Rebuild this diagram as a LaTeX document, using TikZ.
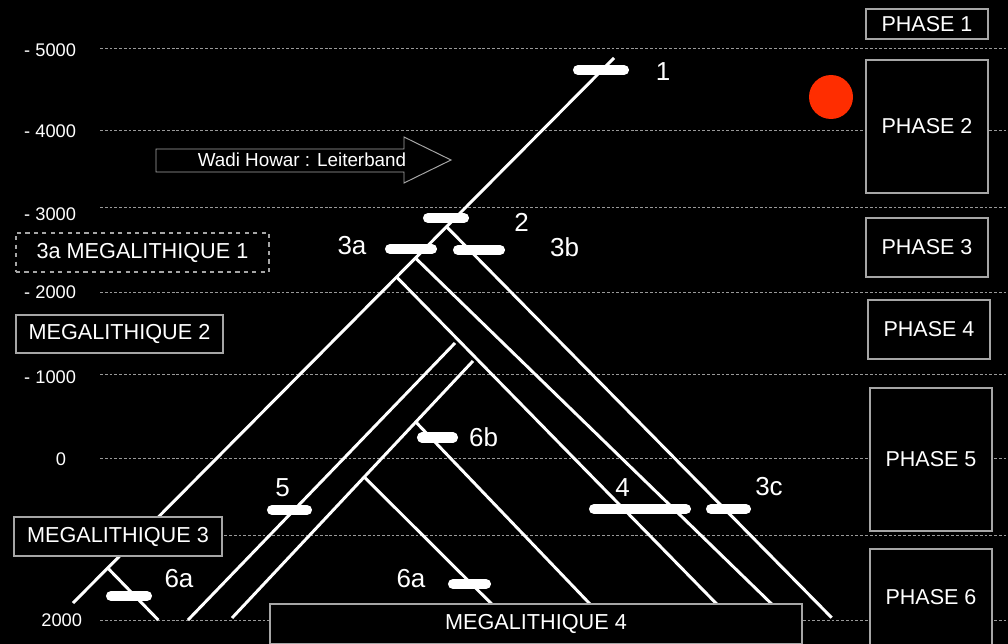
\documentclass[tikz,border=0pt]{standalone}
\usepackage{fontspec}
\setmainfont{Liberation Sans}
\definecolor{sunred}{RGB}{255,45,0}
\begin{document}
\begin{tikzpicture}[
        x=0.025cm, y=-0.025cm,
        declare function={
            % x of the main trunk at a given y
            trunk(\t) = 614 - (\t-58)*0.99266;
            % x of the second rising line at a given y
            rise(\t) = 232 + (618-\t)*0.93774;
        },
        epoch/.style={gray!80, line width=0.6pt, dash pattern=on 2pt off 1.4pt},
        branch/.style={white, line width=2.1pt},
        bar/.style={white, line width=7.2pt, line cap=round},
        datum/.style={white, font=\fontsize{18.5}{20}\selectfont},
        yr/.style={white, anchor=east, font=\fontsize{13}{15}\selectfont},
        phase/.style={draw=gray!70, line width=0.9pt, fill=black, text=white,
            minimum width=3.05cm, inner sep=0pt, font=\fontsize{15.3}{18}\selectfont},
        megbox/.style={draw=gray!70, line width=0.9pt, fill=black, text=white,
            inner sep=0pt, font=\fontsize{15.4}{17}\selectfont}
    ]
        % Background
        \fill[black] (0,0) rectangle (1008,644);
        \useasboundingbox (0,0) rectangle (1008,644);

        % Time scale
        \foreach \y in {48,130,207,292,374,458,535,620}
            \draw[epoch] (100,\y) -- (1008,\y);
        \node[yr] (y5000) at (81,50) {- 5000};
        \node[yr] (y4000) at (81,131) {- 4000};
        \node[yr] (y3000) at (81,214) {- 3000};
        \node[yr] (y2000) at (81,292) {- 2000};
        \node[yr] (y1000) at (81,377) {- 1000};
        \node[yr] (y0) at (71,459) {0};
        \node[yr] (y2000ad) at (87,620) {2000};

        % Trunk and branch points
        \coordinate (top) at (614,58);
        \coordinate (foot) at (73,603);
        \coordinate (b2) at ({trunk(226.7)},226.7);
        \coordinate (b3) at ({trunk(258)},258);
        \coordinate (b4) at ({trunk(277)},277);
        \coordinate (b6) at ({trunk(568)},568);
        \coordinate (e3c) at (831.7,617.7);
        \coordinate (e3) at (771.7,604);
        \coordinate (e4) at (716.7,604);
        \coordinate (e6) at (158.3,620);
        % rising lines
        \coordinate (c0) at (188,620);
        \coordinate (c1) at (455,343);
        \coordinate (d0) at (232,618);
        \coordinate (d1) at (473,361);
        \coordinate (r6b) at ({rise(422)},422);
        \coordinate (r6a) at ({rise(477)},477);
        \coordinate (e6b) at (590,604);
        \coordinate (e6a) at (491.7,604);

        \draw[branch] (top) -- (foot);
        \draw[branch] (b2) -- (e3c);
        \draw[branch] (b3) -- (e3);
        \draw[branch] (b4) -- (e4);
        \draw[branch] (b6) -- (e6);
        \draw[branch] (c0) -- (c1);
        \draw[branch] (d0) -- (d1);
        \draw[branch] (r6b) -- (e6b);
        \draw[branch] (r6a) -- (e6a);

        % Dated sites
        \draw[bar] (578,70) -- (624,70);
        \draw[bar] (428,218) -- (464,218);
        \draw[bar] (390,249) -- (432,249);
        \draw[bar] (458,250) -- (500,250);
        \draw[bar] (594,509) -- (686,509);
        \draw[bar] (711,509) -- (746,509);
        \draw[bar] (272,510) -- (307,510);
        \draw[bar] (422,437.5) -- (453,437.5);
        \draw[bar] (453,584) -- (486,584);
        \draw[bar] (111,596) -- (147,596);

        \node[datum] (s1) at (663,72) {1};
        \node[datum] (s2) at (521.5,222.5) {2};
        \node[datum] (s3a) at (352,246) {3a};
        \node[datum] (s3b) at (564.5,247.5) {3b};
        \node[datum] (s3c) at (769,487) {3c};
        \node[datum] (s4) at (622.5,488) {4};
        \node[datum] (s5) at (282.5,487.5) {5};
        \node[datum] (s6b) at (483.5,437) {6b};
        \node[datum] (s6a) at (411,579) {6a};
        \node[datum] (s6aw) at (179,579) {6a};

        % Wadi Howar arrow
        \draw[gray!70, line width=0.7pt] (156,149) -- (404,149) -- (404,137) -- (451,160)
            -- (404,183) -- (404,172) -- (156,172) -- cycle;
        \node[white, font=\fontsize{13.4}{15}\selectfont] (wadi) at (302,160) {Wadi Howar : Leiterband};

        % Red dot
        \fill[sunred] (831,97) circle[radius=22];

        % Megalithic stages
        \node[megbox, dashed, minimum width=6.325cm, minimum height=0.975cm] (m1) at (142.5,252.5) {3a MEGALITHIQUE 1};
        \node[megbox, minimum width=5.175cm, minimum height=0.95cm] (m2) at (119.5,334) {MEGALITHIQUE 2};
        \node[megbox, minimum width=5.2cm, minimum height=0.975cm] (m3) at (118,536.5) {MEGALITHIQUE 3};
        \node[megbox, minimum width=13.3cm, minimum height=1cm] (m4) at (536,624) {MEGALITHIQUE 4};

        % Phases
        \node[phase, minimum height=0.75cm] (p1) at (927,24) {PHASE 1};
        \node[phase, minimum height=3.325cm] (p2) at (927,126.5) {PHASE 2};
        \node[phase, minimum height=1.475cm] (p3) at (927,247.5) {PHASE 3};
        \node[phase, minimum height=1.475cm] (p4) at (929,329.5) {PHASE 4};
        \node[phase, minimum height=3.575cm] (p5) at (931,459.5) {PHASE 5};
        \node[phase, minimum height=2.4cm] (p6) at (931,597) {PHASE 6};
    \end{tikzpicture}
\end{document}
